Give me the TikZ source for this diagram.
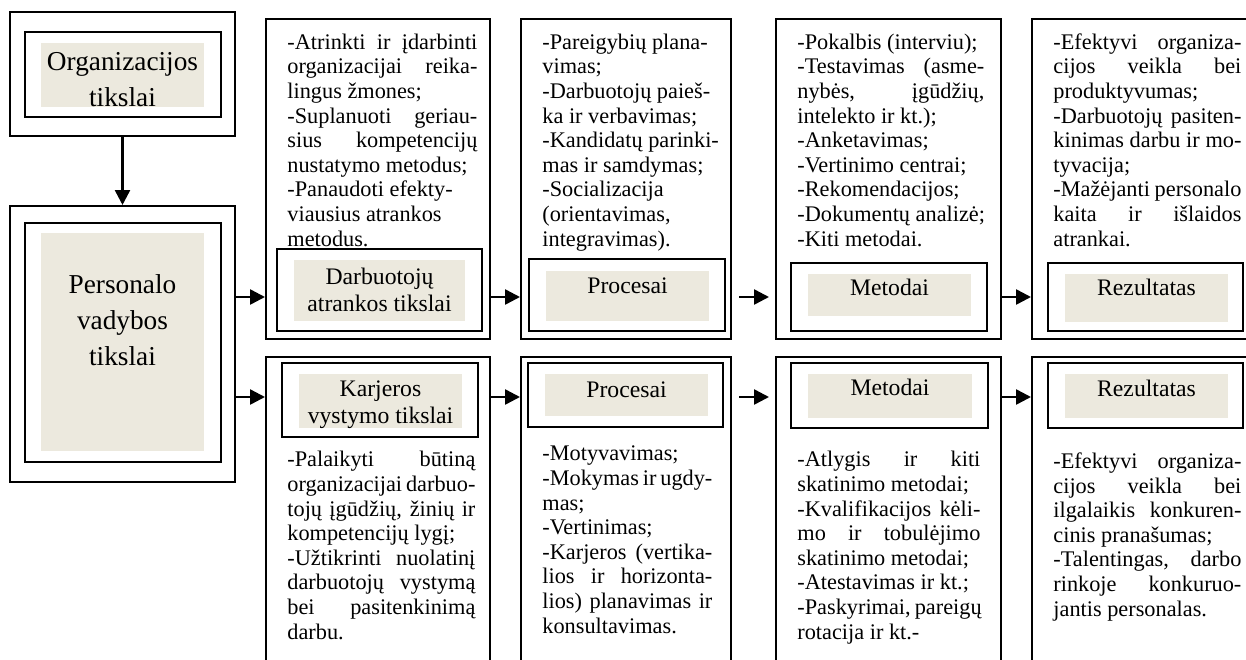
\documentclass[tikz,border=0pt]{standalone}
\usepackage{fontspec}
\setmainfont{Liberation Serif}
\usetikzlibrary{arrows.meta,calc,fit}
\definecolor{papier}{RGB}{236,233,222}
\newlength{\jw}
\newcommand{\jl}[1]{\makebox[\jw][s]{#1}}

\begin{document}
\begin{tikzpicture}[x=0.5pt,y=-0.5pt,
  cadre/.style={draw,line width=1pt,inner sep=0pt},
  boite/.style={draw,line width=1.1pt},
  fond/.style={fill=papier},
  titre/.style={font=\fontsize{13.65}{18}\selectfont,align=center,anchor=base,inner sep=0pt},
  entete/.style={font=\fontsize{11.85}{13.5}\selectfont,align=center,anchor=base,inner sep=0pt},
  corps/.style={font=\fontsize{11.15}{12.3}\selectfont,align=left,anchor=base west,inner sep=0pt,
    execute at begin node={\global\jw=#1\relax}},
  fleche/.style={-{Triangle[length=7.5pt,width=7.5pt]},line width=1.25pt}]

%%%%%%%%%%%%%%%%%%%%%%
%%%   Geometry     %%%
%%%%%%%%%%%%%%%%%%%%%%

% text nodes are placed by the baseline of their last line
\def \ytop{19}
\def \ymid{339}
\def \ylow{357}
\def \yend{700}
\def \xend{1300}

\path[use as bounding box] (0,0) rectangle (1246,659);
\clip (0,0) rectangle (1246,659);

\coordinate (flowa) at (0,297);
\coordinate (flowb) at (0,397);

%%%%%%%%%%%%%%%%%%%%%%
%%%  Left column   %%%
%%%%%%%%%%%%%%%%%%%%%%

\fill[fond] (41,43) rectangle (204,107);
\draw[boite] (25,32) rectangle (221,117);
\node[cadre,fit={(10,12) (235,136)}] (org) {};
\node[titre] (orgt) at (122.5,106) {Organizacijos\\tikslai};

\fill[fond] (41,233) rectangle (204,451);
\draw[boite] (25,223) rectangle (221,462);
\node[cadre,fit={(10,206) (235,482)}] (pv) {};
\node[titre] (pvt) at (122.5,365) {Personalo\\vadybos\\tikslai};

%%%%%%%%%%%%%%%%%%%%%%
%%%   Upper row    %%%
%%%%%%%%%%%%%%%%%%%%%%

% Darbuotoju atrankos tikslai
\node[cadre,fit={(266,\ytop) (490,\ymid)}] (a1) {};
\fill[fond] (294,260) rectangle (465,321);
\draw[boite] (277,249) rectangle (482,331);
\node[entete] (a1h) at (379.5,311) {Darbuotojų\\atrankos tikslai};
\node[corps=95pt] (a1t) at (287,246) {\jl{-Atrinkti ir įdarbinti}\\
  \jl{organizacijai reika-}\\ lingus žmones;\\ \jl{-Suplanuoti geriau-}\\
  \jl{sius kompetencijų}\\ nustatymo metodus;\\ -Panaudoti efekty-\\
  viausius atrankos\\ metodus.};

% Procesai
\node[cadre,fit={(521,\ytop) (731,\ymid)}] (a2) {};
\fill[fond] (546,271) rectangle (709,321);
\draw[boite] (529,259) rectangle (725,331);
\node[entete] (a2h) at (627.5,293) {Procesai};
\node[corps=85pt] (a2t) at (542,246) {-Pareigybių plana-\\ vimas;\\
  -Darbuotojų paieš-\\ ka ir verbavimas;\\ -Kandidatų parinki-\\
  mas ir samdymas;\\ -Socializacija\\ (orientavimas,\\ integravimas).};

% Metodai
\node[cadre,fit={(776,\ytop) (1001,\ymid)}] (a3) {};
\fill[fond] (808,274) rectangle (971,316);
\draw[boite] (791,263) rectangle (987,331);
\node[entete] (a3h) at (889.5,295) {Metodai};
\node[corps=93.5pt] (a3t) at (797,246) {-Pokalbis (interviu);\\
  \jl{-Testavimas (asme-}\\ \jl{nybės, įgūdžių,}\\ intelekto ir kt.);\\
  -Anketavimas;\\ -Vertinimo centrai;\\ -Rekomendacijos;\\
  -Dokumentų analizė;\\ -Kiti metodai.};

% Rezultatas
\node[cadre,fit={(1032,\ytop) (\xend,\ymid)}] (a4) {};
\fill[fond] (1065,274) rectangle (1228,322);
\draw[boite] (1048,263) rectangle (1243,331);
\node[entete] (a4h) at (1146.5,295) {Rezultatas};
\node[corps=94pt] (a4t) at (1053,246) {\jl{-Efektyvi organiza-}\\
  \jl{cijos veikla bei}\\ produktyvumas;\\ \jl{-Darbuotojų pasiten-}\\
  \jl{kinimas darbu ir mo-}\\ tyvacija;\\ \jl{-Mažėjanti personalo}\\
  \jl{kaita ir išlaidos}\\ atrankai.};

%%%%%%%%%%%%%%%%%%%%%%
%%%   Lower row    %%%
%%%%%%%%%%%%%%%%%%%%%%

% Karjeros vystymo tikslai
\node[cadre,fit={(266,\ylow) (490,\yend)}] (b1) {};
\fill[fond] (299,374) rectangle (462,428);
\draw[boite] (282,363) rectangle (478,437);
\node[entete] (b1h) at (380.5,423) {Karjeros\\vystymo tikslai};
\node[corps=94pt] (b1t) at (287,639) {\jl{-Palaikyti būtiną}\\
  \jl{organizacijai darbuo-}\\ \jl{tojų įgūdžių, žinių ir}\\
  kompetencijų lygį;\\ \jl{-Užtikrinti nuolatinį}\\ \jl{darbuotojų vystymą}\\
  \jl{bei pasitenkinimą}\\ darbu.};

% Procesai
\node[cadre,fit={(521,\ylow) (731,\yend)}] (b2) {};
\fill[fond] (545,374) rectangle (708,416);
\draw[boite] (528,363) rectangle (723,427);
\node[entete] (b2h) at (626.5,397) {Procesai};
\node[corps=85pt] (b2t) at (542,633) {-Motyvavimas;\\
  \jl{-Mokymas ir ugdy-}\\ mas;\\ -Vertinimas;\\ \jl{-Karjeros (vertika-}\\
  \jl{lios ir horizonta-}\\ \jl{lios) planavimas ir}\\ konsultavimas.};

% Metodai
\node[cadre,fit={(776,\ylow) (1001,\yend)}] (b3) {};
\fill[fond] (808,374) rectangle (972,418);
\draw[boite] (791,363) rectangle (988,428);
\node[entete] (b3h) at (890,395) {Metodai};
\node[corps=91.5pt] (b3t) at (797,639) {\jl{-Atlygis ir kiti}\\
  skatinimo metodai;\\ \jl{-Kvalifikacijos kėli-}\\ \jl{mo ir tobulėjimo}\\
  skatinimo metodai;\\ -Atestavimas ir kt.;\\ \jl{-Paskyrimai, pareigų}\\
  rotacija ir kt.-};

% Rezultatas
\node[cadre,fit={(1032,\ylow) (\xend,\yend)}] (b4) {};
\fill[fond] (1065,374) rectangle (1228,418);
\draw[boite] (1048,363) rectangle (1243,428);
\node[entete] (b4h) at (1146.5,396) {Rezultatas};
\node[corps=94pt] (b4t) at (1053,616) {\jl{-Efektyvi organiza-}\\
  \jl{cijos veikla bei}\\ \jl{ilgalaikis konkuren-}\\ cinis pranašumas;\\
  \jl{-Talentingas, darbo}\\ \jl{rinkoje konkuruo-}\\ jantis personalas.};

%%%%%%%%%%%%%%%%%%%%%%
%%%    Arrows      %%%
%%%%%%%%%%%%%%%%%%%%%%

\draw[fleche] (org.south) -- (pv.north);

\draw[fleche] (pv.east |- flowa) -- (a1.west |- flowa);
\draw[fleche] (a1.east |- flowa) -- (a2.west |- flowa);
\draw[fleche] ($(a2.east |- flowa)+(7,0)$) -- ($(a3.west |- flowa)+(-6,0)$);
\draw[fleche] (a3.east |- flowa) -- (a4.west |- flowa);

\draw[fleche] (pv.east |- flowb) -- (b1.west |- flowb);
\draw[fleche] (b1.east |- flowb) -- (b2.west |- flowb);
\draw[fleche] ($(b2.east |- flowb)+(7,0)$) -- ($(b3.west |- flowb)+(-6,0)$);
\draw[fleche] (b3.east |- flowb) -- (b4.west |- flowb);

\end{tikzpicture}
\end{document}
